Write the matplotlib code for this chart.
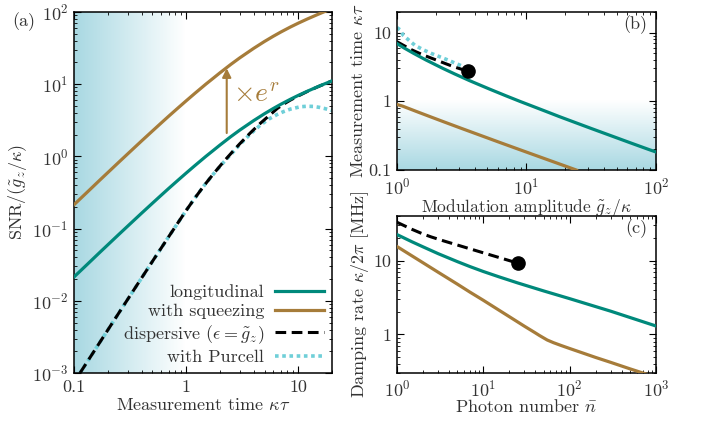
import numpy as np
import matplotlib
matplotlib.use('Agg')
import matplotlib.pyplot as plt
from matplotlib.ticker import FuncFormatter, NullFormatter
from matplotlib.lines import Line2D

plt.rcParams['font.family'] = 'serif'
plt.rcParams['font.serif'] = ['cmr10']
plt.rcParams['mathtext.fontset'] = 'cm'
plt.rcParams['axes.formatter.use_mathtext'] = True
plt.rcParams['font.size'] = 13

TEAL = '#00897b'
BROWN = '#a67c3a'
CYAN = '#6fcfd8'
GREY = '#333333'
SHADE = (0.66, 0.85, 0.89)

# (a) SNR vs measurement time
tau_a = [0.1, 0.13, 0.17, 0.2, 0.25, 0.3, 0.4, 0.5, 0.6, 0.7, 0.85, 1, 1.2, 1.5,
         1.75, 2, 2.5, 3, 4, 5, 6, 7, 8.5, 10, 12, 15, 17.5, 20]
snr_long = [0.0214, 0.0315, 0.0469, 0.0595, 0.0825, 0.1075, 0.163, 0.224, 0.290,
            0.360, 0.470, 0.586, 0.747, 0.999, 1.21, 1.43, 1.87, 2.30, 3.12, 3.89,
            4.60, 5.26, 6.16, 6.97, 7.94, 9.23, 10.19, 11.07]
snr_sq = [0.214, 0.315, 0.469, 0.595, 0.825, 1.075, 1.63, 2.24, 2.90, 3.60, 4.70,
          5.86, 7.47, 9.99, 12.1, 14.3, 18.7, 23.0, 31.2, 38.9, 46.0, 52.6, 61.6,
          69.7, 79.4, 92.3, 101.9, 110.7]
tau_disp = [0.113, 0.2, 0.3, 0.5, 0.7, 1.0, 1.2, 1.45, 1.75, 2.14, 2.6, 3.0, 3.73,
            4.5, 5.5, 6.5, 7.5, 8.5, 10, 12, 15, 17.5, 20]
snr_disp = [0.001, 0.00394, 0.0104, 0.0351, 0.0775, 0.178, 0.266, 0.396, 0.571,
            0.829, 1.165, 1.486, 2.105, 2.79, 3.66, 4.6, 5.35, 6.0, 6.85, 7.88,
            9.2, 10.17, 11.05]
tau_purc = [0.113, 0.2, 0.3, 0.5, 0.7, 1.0, 1.2, 1.45, 1.75, 2.14, 2.6, 3.0, 3.73,
            4.58, 5.5, 6.5, 7.4, 8.5, 10.4, 12, 13.7, 15.5, 17, 18.5, 20]
snr_purc = [0.001, 0.00394, 0.0104, 0.0351, 0.0775, 0.178, 0.266, 0.396, 0.568,
            0.815, 1.13, 1.45, 2.03, 2.7, 3.3, 3.8, 4.16, 4.5, 4.85, 4.93, 4.9,
            4.75, 4.6, 4.45, 4.32]

# (b) measurement time vs modulation amplitude
g_long = [1, 1.13, 1.34, 1.67, 2.27, 2.79, 3.63, 4.29, 5.21, 6.96, 8.87, 11.1,
          14.5, 17.9, 23.2, 31.9, 48.4, 63, 87.4, 100]
t_long = [6.92, 6, 5, 4, 3, 2.5, 2, 1.75, 1.5, 1.2, 1, 0.85, 0.7, 0.6, 0.5, 0.4,
          0.3, 0.25, 0.2, 0.183]
g_sq = [1, 1.107, 1.446, 1.794, 2.32, 3.19, 4.84, 6.3, 8.74, 11.1, 16.5, 24.3]
t_sq = [0.9, 0.85, 0.7, 0.6, 0.5, 0.4, 0.3, 0.25, 0.2, 0.17, 0.13, 0.1]
g_disp = [1, 1.3, 1.6, 2, 2.4, 2.8, 3.2, 3.55]
t_disp = [7.35, 5.6, 4.7, 4.0, 3.5, 3.14, 2.9, 2.75]
g_purc = [1, 1.055, 1.12, 1.25, 1.38, 1.6, 1.85, 2.2, 2.5, 2.85, 3.25]
t_purc = [11.8, 11.0, 9.1, 7.6, 6.5, 5.6, 4.95, 4.35, 3.95, 3.55, 3.2]
dot_b = (3.55, 2.75)

# (c) damping rate vs photon number
n_long = [1, 1.5, 2, 3, 5, 7, 10, 15, 25, 50, 100, 300, 1000]
k_long = [22.5, 17.9, 15.35, 12.4, 9.68, 8.29, 7.11, 6.05, 4.98, 3.88, 3.05,
          2.06, 1.30]
n_sq = [1, 2, 3, 5, 7, 10, 15, 20, 30, 40, 45, 55, 65, 80, 100, 150, 200, 300,
        500, 700, 1000]
k_sq = [15.5, 9.35, 6.95, 4.8, 3.74, 2.9, 2.15, 1.74, 1.29, 1.05, 0.963, 0.84,
        0.773, 0.707, 0.645, 0.548, 0.488, 0.418, 0.342, 0.301, 0.264]
n_disp = [1, 1.5, 2, 2.5, 3.5, 5.6, 9, 13.7, 19, 25]
k_disp = [33, 26.4, 22.9, 20.85, 18.4, 15.6, 13.2, 11.4, 10.17, 9.23]
dot_c = (25, 9.2)

fig = plt.figure(figsize=(7.05, 4.22), dpi=100)
ax_a = fig.add_axes([0.105, 0.116, 0.366, 0.856])
ax_b = fig.add_axes([0.563, 0.597, 0.3675, 0.375])
ax_c = fig.add_axes([0.563, 0.116, 0.3675, 0.372])


def style(ax, xpad=5):
    ax.set_xscale('log')
    ax.set_yscale('log')
    ax.tick_params(which='both', direction='in', top=True, right=True,
                   colors='black', labelcolor=GREY, labelsize=13)
    ax.tick_params(which='major', length=5, width=0.8)
    ax.tick_params(which='minor', length=2.5, width=0.6)
    ax.tick_params(axis='x', which='both', pad=xpad)
    ax.tick_params(axis='y', which='both', pad=4)
    for s in ax.spines.values():
        s.set_linewidth(1.1)


def gradient(ax, horizontal, frac):
    ramp = np.linspace(1, 0, 256)
    img = np.ones((1, 256, 4)) if horizontal else np.ones((256, 1, 4))
    img[..., 0] = SHADE[0]
    img[..., 1] = SHADE[1]
    img[..., 2] = SHADE[2]
    if horizontal:
        img[0, :, 3] = ramp
        ext = [0, frac, 0, 1]
    else:
        img[:, 0, 3] = ramp
        ext = [0, 1, 0, frac]
    ax.imshow(img, extent=ext, transform=ax.transAxes, aspect='auto',
              origin='lower', zorder=0, interpolation='bilinear')


plain = FuncFormatter(lambda v, _: '%g' % v)
DASH = (0, (3.5, 1.8))
DOT = (0, (1, 1))

# ---- (a)
style(ax_a)
gradient(ax_a, True, 0.434)
ax_a.plot(tau_purc, snr_purc, color=CYAN, lw=2.6, ls=DOT, zorder=2)
ax_a.plot(tau_disp, snr_disp, color='black', lw=2.2, ls=DASH, zorder=3)
ax_a.plot(tau_a, snr_long, color=TEAL, lw=2.3, zorder=4)
ax_a.plot(tau_a, snr_sq, color=BROWN, lw=2.3, zorder=4)
ax_a.set_xlim(0.1, 20)
ax_a.set_ylim(1e-3, 1e2)
ax_a.xaxis.set_major_formatter(plain)
ax_a.yaxis.set_minor_formatter(NullFormatter())
ax_a.set_xlabel(r'Measurement time $\kappa\tau$', labelpad=1, color=GREY)
ax_a.set_ylabel(r'SNR/$(\tilde{g}_z/\kappa)$', labelpad=2, color=GREY)
ax_a.annotate('', xy=(2.3, 16.5), xytext=(2.3, 2.1),
              arrowprops=dict(arrowstyle='-|>', color=BROWN, lw=1.5,
                              mutation_scale=13, shrinkA=0, shrinkB=0), zorder=5)
ax_a.text(2.63, 5.66, r'$\times e^r$', color=BROWN, fontsize=20,
          ha='left', va='baseline')
handles = [Line2D([], [], color=TEAL, lw=2.3),
           Line2D([], [], color=BROWN, lw=2.3),
           Line2D([], [], color='black', lw=2.2, ls=DASH),
           Line2D([], [], color=CYAN, lw=2.6, ls=DOT)]
labels = ['longitudinal', 'with squeezing',
          r'dispersive ($\epsilon=\tilde{g}_z$)', 'with Purcell']
leg = ax_a.legend(handles, labels, loc='lower right', frameon=False,
                  markerfirst=False, handlelength=2.7, labelspacing=0.2,
                  borderaxespad=0.05, handletextpad=0.6, fontsize=13)
for t in leg.get_texts():
    t.set_color(GREY)
fig.text(0.018, 0.948, '(a)', color=GREY, va='center', fontsize=13)

# ---- (b)
style(ax_b, xpad=5)
gradient(ax_b, False, 0.437)
ax_b.plot(g_purc, t_purc, color=CYAN, lw=2.6, ls=DOT, zorder=2)
ax_b.plot(g_disp, t_disp, color='black', lw=2.2, ls=DASH, zorder=3)
ax_b.plot(g_long, t_long, color=TEAL, lw=2.3, zorder=4)
ax_b.plot(g_sq, t_sq, color=BROWN, lw=2.3, zorder=4)
ax_b.plot([dot_b[0]], [dot_b[1]], 'o', color='black', ms=9.5, zorder=5)
ax_b.set_xlim(1, 100)
ax_b.set_ylim(0.1, 20)
ax_b.yaxis.set_major_formatter(plain)
ax_b.yaxis.set_minor_formatter(NullFormatter())
ax_b.set_xlabel(r'Modulation amplitude $\tilde{g}_z/\kappa$', labelpad=-0.5,
                color=GREY, fontsize=12.5)
ax_b.set_ylabel(r'Measurement time $\kappa\tau$', labelpad=2, color=GREY)
ax_b.text(0.965, 0.918, '(b)', transform=ax_b.transAxes, ha='right',
          va='center', color=GREY)

# ---- (c)
style(ax_c, xpad=4)
ax_c.plot(n_disp, k_disp, color='black', lw=2.2, ls=DASH, zorder=3)
ax_c.plot(n_long, k_long, color=TEAL, lw=2.3, zorder=4)
ax_c.plot(n_sq, k_sq, color=BROWN, lw=2.3, zorder=4)
ax_c.plot([dot_c[0]], [dot_c[1]], 'o', color='black', ms=9.5, zorder=5)
ax_c.set_xlim(1, 1000)
ax_c.set_ylim(0.3, 40)
ax_c.yaxis.set_major_formatter(plain)
ax_c.yaxis.set_minor_formatter(NullFormatter())
ax_c.set_xlabel(r'Photon number $\bar{n}$', labelpad=-1, color=GREY)
ax_c.set_ylabel(r'Damping rate $\kappa/2\pi$ [MHz]', labelpad=2, color=GREY)
ax_c.text(0.965, 0.917, '(c)', transform=ax_c.transAxes, ha='right',
          va='center', color=GREY)

fig.savefig('out.png', dpi=100)
